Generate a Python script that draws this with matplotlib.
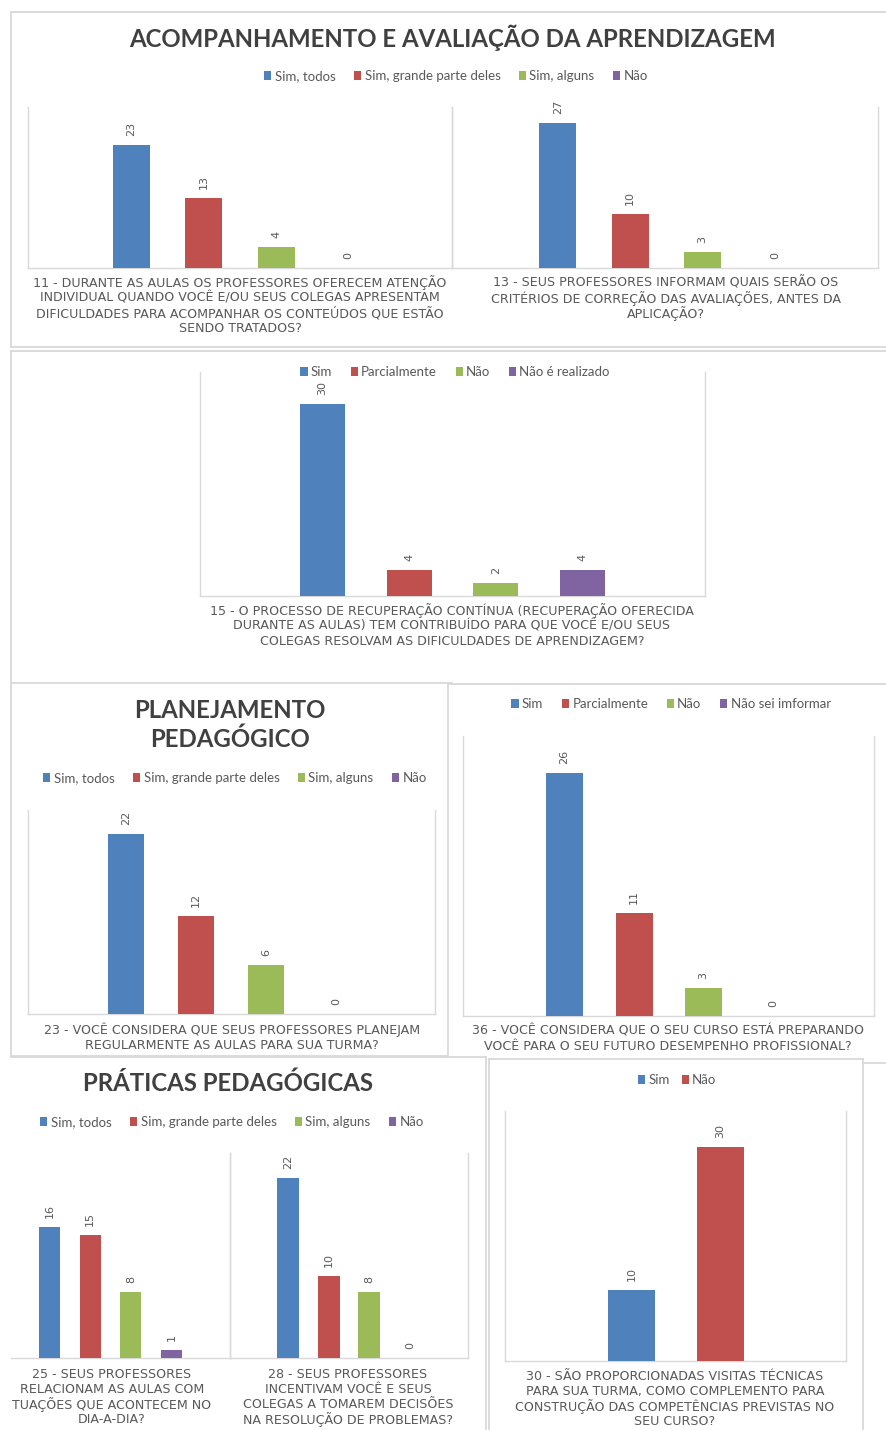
import matplotlib
matplotlib.use("Agg")
import matplotlib.pyplot as plt
from matplotlib.patches import Patch
from matplotlib.lines import Line2D
import numpy as np

plt.rcParams['font.family'] = ['Lato', 'DejaVu Sans']

# ---------------- data ----------------
BLUE, RED, GREEN, PURPLE = "#4F81BD", "#C0504D", "#9BBB59", "#8064A2"
TXT = "#595959"
TITLE = "#404040"
GRID = "#D9D9D9"

series_sim_todos = ["Sim, todos", "Sim, grande parte deles", "Sim, alguns", "Não"]
series_15 = ["Sim", "Parcialmente", "Não", "Não é realizado"]
series_36 = ["Sim", "Parcialmente", "Não", "Não sei imformar"]
series_30 = ["Sim", "Não"]

q11_values = [23, 13, 4, 0]
q13_values = [27, 10, 3, 0]
q15_values = [30, 4, 2, 4]
q23_values = [22, 12, 6, 0]
q36_values = [26, 11, 3, 0]
q25_values = [16, 15, 8, 1]
q28_values = [22, 10, 8, 0]
q30_values = [10, 30]

title_1 = "ACOMPANHAMENTO E AVALIAÇÃO DA APRENDIZAGEM"
title_3 = "PLANEJAMENTO\nPEDAGÓGICO"
title_5 = "PRÁTICAS PEDAGÓGICAS"

label_11 = ["11 - DURANTE AS AULAS OS PROFESSORES OFERECEM ATENÇÃO",
            "INDIVIDUAL QUANDO VOCÊ E/OU SEUS COLEGAS APRESENTAM",
            "DIFICULDADES PARA ACOMPANHAR OS CONTEÚDOS QUE ESTÃO",
            "SENDO TRATADOS?"]
label_13 = ["13 - SEUS PROFESSORES INFORMAM QUAIS SERÃO OS",
            "CRITÉRIOS DE CORREÇÃO DAS AVALIAÇÕES, ANTES DA",
            "APLICAÇÃO?"]
label_15 = ["15 - O PROCESSO DE RECUPERAÇÃO CONTÍNUA (RECUPERAÇÃO OFERECIDA",
            "DURANTE AS AULAS) TEM CONTRIBUÍDO PARA QUE VOCÊ E/OU SEUS",
            "COLEGAS RESOLVAM AS DIFICULDADES DE APRENDIZAGEM?"]
label_23 = ["23 - VOCÊ CONSIDERA QUE SEUS PROFESSORES PLANEJAM",
            "REGULARMENTE AS AULAS PARA SUA TURMA?"]
label_36 = ["36 - VOCÊ CONSIDERA QUE O SEU CURSO ESTÁ PREPARANDO",
            "VOCÊ PARA O SEU FUTURO DESEMPENHO PROFISSIONAL?"]
label_25 = ["25 - SEUS PROFESSORES", "RELACIONAM AS AULAS COM",
            "TUAÇÕES QUE ACONTECEM NO", "DIA-A-DIA?"]
label_28 = ["28 - SEUS PROFESSORES", "INCENTIVAM VOCÊ E SEUS",
            "COLEGAS A TOMAREM DECISÕES", "NA RESOLUÇÃO DE PROBLEMAS?"]
label_30 = ["30 - SÃO PROPORCIONADAS VISITAS TÉCNICAS",
            "PARA SUA TURMA, COMO COMPLEMENTO PARA",
            "CONSTRUÇÃO DAS COMPETÊNCIAS PREVISTAS NO",
            "SEU CURSO?"]

COLORS4 = [BLUE, RED, GREEN, PURPLE]
COLORS2 = [BLUE, RED]

# ---------------- layout helpers ----------------
W, H = 886, 1430
fig = plt.figure(figsize=(W / 100, H / 100), dpi=100)
fig.patch.set_facecolor("white")


def fx(x):
    return x / W


def fy(y):
    return 1 - y / H


def hline(x0, x1, y, color=GRID, lw=1.3):
    fig.add_artist(Line2D([fx(x0), fx(x1)], [fy(y), fy(y)], color=color, lw=lw,
                          transform=fig.transFigure))


def vline(x, y0, y1, color=GRID, lw=1.3):
    fig.add_artist(Line2D([fx(x), fx(x)], [fy(y0), fy(y1)], color=color, lw=lw,
                          transform=fig.transFigure))


def bar_chart(x0, x1, y0, y1, values, colors, p0, s, bw, ymax, left_spine=True):
    ax = fig.add_axes([fx(x0), fy(y1), fx(x1 - x0), (y1 - y0) / H])
    idx = np.arange(len(values))
    ax.bar(idx, values, width=bw / s, color=colors, zorder=3)
    ax.set_xlim((x0 - p0) / s, (x1 - p0) / s)
    ax.set_ylim(0, ymax)
    ax.set_xticks([])
    ax.set_yticks([])
    ax.patch.set_alpha(0)
    ax.spines['top'].set_visible(False)
    for sp in ['left', 'right', 'bottom']:
        ax.spines[sp].set_color(GRID)
        ax.spines[sp].set_linewidth(1.0)
    ax.spines['left'].set_visible(left_spine)
    for i, v in enumerate(values):
        ax.annotate(str(v), (i, v), xytext=(0, 6.5), textcoords='offset points',
                    rotation=90, ha='center', va='bottom', fontsize=8, color=TXT,
                    family=['DejaVu Sans'])
    return ax


def legend(names, colors, cx, cy, fs=9.5, colsp=1.4):
    handles = [Patch(facecolor=c, edgecolor='none') for c in colors]
    fig.legend(handles, names, loc='center', bbox_to_anchor=(fx(cx), fy(cy)),
               ncol=len(names), frameon=False, fontsize=fs, handlelength=0.55,
               handleheight=0.75, handletextpad=0.25, columnspacing=colsp,
               labelcolor=TXT, borderpad=0, borderaxespad=0)


def qlabel(lines, cx, y_first, step=15.2, fs=9.1):
    for k, line in enumerate(lines):
        fig.text(fx(cx), fy(y_first + k * step), line, ha='center', va='center',
                 fontsize=fs, color=TXT, family=['DejaVu Sans'])


# ---------------- panel borders ----------------
# panel 1
hline(11, 886, 12); vline(11, 12, 347); hline(11, 886, 347)
# panel 2
hline(11, 886, 351); vline(11, 351, 683); hline(11, 452, 683)
# panel 3 / 4
hline(448, 886, 684); vline(448, 684, 1057); hline(11, 448, 1056); vline(11, 683, 1056)
hline(863, 886, 1063)
# panel 5
hline(11, 486, 1057); vline(486, 1057, 1430)
# panel 6
hline(489, 863, 1059); vline(489, 1059, 1430); vline(863, 1059, 1430)

TFS = 17.3

# ---------------- panel 1 ----------------
fig.text(fx(452), fy(38), title_1, ha='center', va='center', fontsize=TFS,
         fontweight='bold', color=TITLE)
legend(series_sim_todos, COLORS4, 456, 76)
bar_chart(28, 452, 107, 268, q11_values, COLORS4, 131.5, 72.3, 37, 30)
bar_chart(452, 878, 107, 268, q13_values, COLORS4, 558, 72.3, 37, 30)
qlabel(label_11, 240, 283)
qlabel(label_13, 666, 283)

# ---------------- panel 2 ----------------
legend(series_15, COLORS4, 455, 372)
bar_chart(200, 705, 372, 596, q15_values, COLORS4, 322.5, 86.7, 45, 35)
qlabel(label_15, 452, 611)

# ---------------- panel 3 ----------------
fig.text(fx(230), fy(725), title_3, ha='center', va='center', fontsize=TFS,
         fontweight='bold', color=TITLE, linespacing=1.3)
legend(series_sim_todos, COLORS4, 235, 778)
bar_chart(28, 435, 810, 1014, q23_values, COLORS4, 126.5, 69.8, 36, 25)
qlabel(label_23, 232, 1030)

# ---------------- panel 4 ----------------
legend(series_36, COLORS4, 671, 704)
bar_chart(463, 874, 736, 1016, q36_values, COLORS4, 564.5, 69.5, 37, 30)
qlabel(label_36, 668, 1031, step=16)

# ---------------- panel 5 ----------------
fig.text(fx(228), fy(1083), title_5, ha='center', va='center', fontsize=TFS,
         fontweight='bold', color=TITLE)
legend(series_sim_todos, COLORS4, 232, 1122)
bar_chart(11, 230, 1153, 1358, q25_values, COLORS4, 49.5, 40.7, 21, 25, left_spine=False)
bar_chart(230, 468, 1153, 1358, q28_values, COLORS4, 288, 40.7, 22, 25)
qlabel(label_25, 112, 1374)
qlabel(label_28, 348, 1374)

# ---------------- panel 6 ----------------
legend(series_30, COLORS2, 677, 1080, colsp=0.9)
bar_chart(505, 846, 1111, 1361, q30_values, COLORS2, 631.5, 88.5, 47, 35)
qlabel(label_30, 675, 1376)

fig.savefig("out.png", dpi=100, facecolor="white")
